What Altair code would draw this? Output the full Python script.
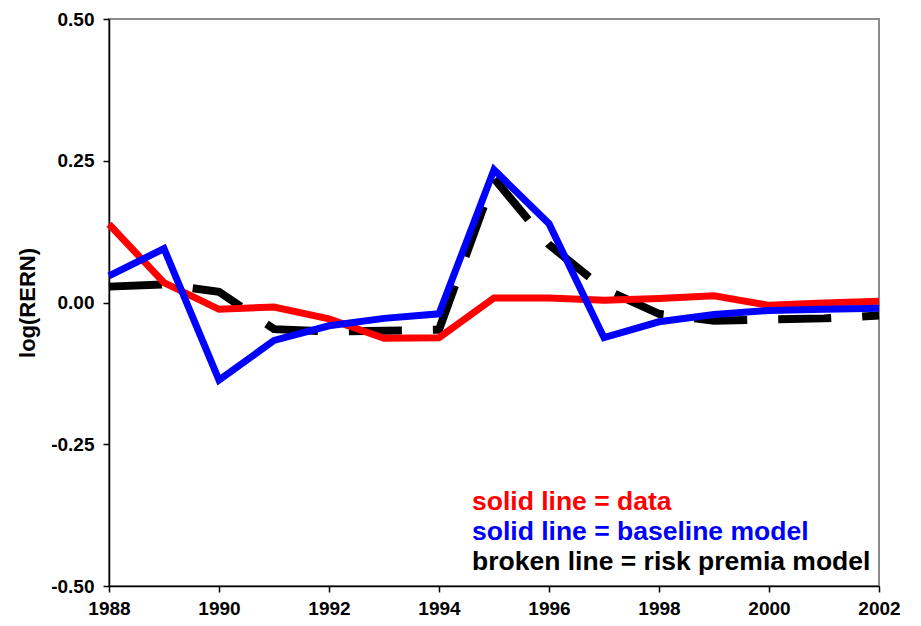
import altair as alt
import pandas as pd

years = list(range(1988, 2003))
data_vals = [0.138, 0.035, -0.012, -0.008, -0.029, -0.063, -0.062, 0.008, 0.008, 0.004, 0.007, 0.012, -0.005, -0.001, 0.002]
baseline_vals = [0.047, 0.095, -0.137, -0.067, -0.041, -0.028, -0.020, 0.234, 0.139, -0.062, -0.034, -0.021, -0.014, -0.012, -0.010]
risk_vals = [0.028, 0.032, 0.019, -0.047, -0.051, -0.050, -0.048, 0.219, 0.102, 0.024, -0.020, -0.032, -0.030, -0.028, -0.023]

x_ticks = [1988, 1990, 1992, 1994, 1996, 1998, 2000, 2002]
y_ticks = [-0.5, -0.25, 0.0, 0.25, 0.5]

note_text = ["solid line = data", "solid line = baseline model", "broken line = risk premia model"]
note_color = ["#FF0000", "#0000FF", "#000000"]
note_x = [1994.6, 1994.6, 1994.6]
note_y = [-0.366, -0.419, -0.472]

df = pd.DataFrame({"year": years, "data": data_vals, "baseline": baseline_vals, "risk": risk_vals})
notes = pd.DataFrame({"x": note_x, "y": note_y, "text": note_text, "color": note_color})

FONT = "Liberation Sans"

xenc = alt.X("year:Q", scale=alt.Scale(domain=[1988, 2002], nice=False, zero=False),
             axis=alt.Axis(values=x_ticks, format="d", title=None, grid=False,
                           labelFont=FONT, labelFontSize=19, labelFontWeight="bold",
                           labelColor="black", labelPadding=7, tickSize=6,
                           tickColor="black", domainColor="black", domainWidth=1.5,
                           tickWidth=1.5, labelFlush=False))
yscale = alt.Scale(domain=[-0.5, 0.5], nice=False, zero=False)
yaxis = alt.Axis(values=y_ticks, title="log(RERN)", grid=False,
                 labelExpr="(datum.value < 0 ? '-' : '') + format(abs(datum.value), '.2f')",
                 labelFont=FONT, labelFontSize=19, labelFontWeight="bold", labelColor="black",
                 labelPadding=9, tickSize=6, tickColor="black", tickWidth=1.5,
                 domainColor="black", domainWidth=1.5,
                 titleFont=FONT, titleFontSize=22, titleFontWeight="bold", titleColor="black",
                 titlePadding=11)

base = alt.Chart(df)
risk = base.mark_line(color="#000000", strokeWidth=8, strokeDash=[53, 31], strokeCap="butt").encode(
    x=xenc, y=alt.Y("risk:Q", scale=yscale, axis=yaxis))
red = base.mark_line(color="#FF0000", strokeWidth=7).encode(
    x=xenc, y=alt.Y("data:Q", scale=yscale, axis=yaxis))
blue = base.mark_line(color="#0000FF", strokeWidth=7).encode(
    x=xenc, y=alt.Y("baseline:Q", scale=yscale, axis=yaxis))

text = alt.Chart(notes).mark_text(align="left", baseline="alphabetic", font=FONT,
                                  fontSize=26.5, fontWeight="bold").encode(
    x=alt.X("x:Q", scale=alt.Scale(domain=[1988, 2002], nice=False, zero=False)),
    y=alt.Y("y:Q", scale=yscale),
    text="text:N",
    color=alt.Color("color:N", scale=None),
)

chart = alt.layer(risk, red, blue, text).properties(
    width=770, height=567,
    autosize=alt.AutoSizeParams(type="none"),
    padding={"left": 101, "top": 11, "right": 30, "bottom": 32},
    background="white",
).configure_view(stroke="#8c8c8c", strokeWidth=2)

chart.save("out.html", embed_options={"renderer": "svg", "actions": False})
